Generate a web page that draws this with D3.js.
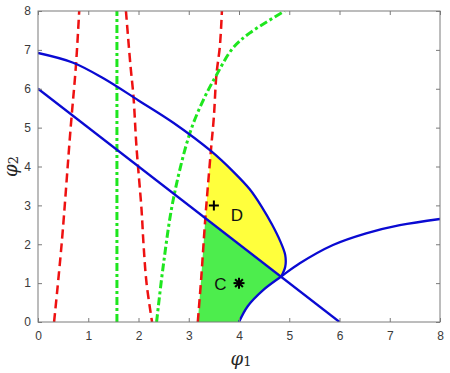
<!DOCTYPE html>
<html>
<head>
<meta charset="utf-8">
<script src="https://cdn.jsdelivr.net/npm/d3@7"></script>
<style>
  body { margin: 0; background: #fff; }
  svg { display: block; }
</style>
</head>
<body>
<div id="vis"></div>
<script>
const width = 450;
const height = 373;
const margin = { top: 11, right: 10, bottom: 51, left: 38 };

const xTicks = [0, 1, 2, 3, 4, 5, 6, 7, 8];
const yTicks = [0, 1, 2, 3, 4, 5, 6, 7, 8];

// blue curves
const straightLine = [[0, 6], [6, 0]];
const outerCurve = [[0, 6.92], [0.7, 6.67], [1.3, 6.27], [2.0, 5.7], [2.7, 5.12], [3.44, 4.40],
  [3.9, 3.85], [4.21, 3.42], [4.45, 2.97], [4.66, 2.5], [4.82, 2.08], [4.92, 1.72], [4.92, 1.42], [4.84, 1.17]];
const lowerCurve = [[4.0, 0], [4.17, 0.4], [4.48, 0.82], [4.84, 1.17], [5.21, 1.51], [5.87, 1.98],
  [6.53, 2.28], [7.2, 2.49], [8, 2.65]];

// red dashed curves
const red1 = [[0.32, 0], [0.47, 2], [0.65, 5], [0.755, 6.6], [0.82, 8]];
const red2 = [[1.75, 8], [1.84, 6.6], [1.9, 5.8], [1.96, 4.5], [2.06, 2.9], [2.1, 2], [2.16, 1], [2.27, 0]];
const red3 = [[3.18, 0], [3.25, 1.16], [3.33, 2.67], [3.44, 4.40], [3.5, 5.28], [3.55, 6.35], [3.62, 7.1], [3.66, 8]];

// green dash-dot curves
const green1 = [[Math.PI / 2, 0], [Math.PI / 2, 8]];
const green2 = [[2.36, 0], [2.49, 1.42], [2.69, 3.14], [3.02, 4.85], [3.29, 5.71], [3.55, 6.35],
  [3.88, 7.05], [4.21, 7.43], [4.91, 8]];

// markers and region labels
const plusMark = [3.5, 3.0];
const starMark = [4.0, 1.0];
const regionLabels = [{ name: 'D', x: 3.96, y: 2.75 }, { name: 'C', x: 3.63, y: 0.97 }];

const x = d3.scaleLinear().domain([0, 8]).range([margin.left, width - margin.right]);
const y = d3.scaleLinear().domain([0, 8]).range([height - margin.bottom, margin.top]);

const svg = d3.select('#vis').append('svg')
  .attr('width', width)
  .attr('height', height);

const smooth = d3.line()
  .x(d => x(d[0]))
  .y(d => y(d[1]))
  .curve(d3.curveCatmullRom);

// join several boundary pieces into one closed path
function regionPath(pieces) {
  let out = '';
  pieces.forEach((p, i) => {
    const s = smooth(p);
    out += i === 0 ? s : 'L' + s.slice(1);
  });
  return out + 'Z';
}

function between(arr, lo, hi) {
  return arr.filter(d => d[1] >= lo && d[1] <= hi);
}

// region C (green)
const cPath = regionPath([
  between(red3, 0, 2.67),
  [[3.33, 2.67], [4.84, 1.17]],
  lowerCurve.filter(d => d[0] <= 4.84).slice().reverse()
]);
svg.append('path')
  .attr('d', cPath)
  .attr('fill', '#4ded4d');

// region D (yellow)
const dPath = regionPath([
  between(red3, 2.67, 4.40),
  outerCurve.filter(d => d[0] >= 3.44),
  [[4.84, 1.17], [3.33, 2.67]]
]);
svg.append('path')
  .attr('d', dPath)
  .attr('fill', '#ffff3c');

svg.append('clipPath').attr('id', 'plotClip')
  .append('rect')
  .attr('x', x(0)).attr('y', y(8))
  .attr('width', x(8) - x(0)).attr('height', y(0) - y(8));

const curves = svg.append('g').attr('clip-path', 'url(#plotClip)');

[red1, red2, red3].forEach(c => {
  curves.append('path')
    .attr('d', smooth(c))
    .attr('fill', 'none')
    .attr('stroke', '#ee1111')
    .attr('stroke-width', 2.5)
    .attr('stroke-dasharray', '9 5');
});

[green1, green2].forEach(c => {
  curves.append('path')
    .attr('d', smooth(c))
    .attr('fill', 'none')
    .attr('stroke', '#1ee61e')
    .attr('stroke-width', 3)
    .attr('stroke-dasharray', '8 3 3 3');
});

[straightLine, outerCurve, lowerCurve].forEach(c => {
  curves.append('path')
    .attr('d', smooth(c))
    .attr('fill', 'none')
    .attr('stroke', '#0a0ad2')
    .attr('stroke-width', 2.3)
    .attr('stroke-linejoin', 'round');
});

// axes box and ticks
const axisColor = '#7a7a7a';
const tickFont = '12px "Liberation Sans", Arial, sans-serif';

svg.append('g')
  .attr('transform', `translate(0,${y(0)})`)
  .call(d3.axisBottom(x).tickValues(xTicks).tickSize(-4).tickPadding(9).tickFormat(d3.format('d')))
  .call(g => g.select('.domain').remove());
svg.append('g')
  .attr('transform', `translate(0,${y(8)})`)
  .call(d3.axisTop(x).tickValues(xTicks).tickSize(-4).tickFormat(''))
  .call(g => g.select('.domain').remove());
svg.append('g')
  .attr('transform', `translate(${x(0)},0)`)
  .call(d3.axisLeft(y).tickValues(yTicks).tickSize(-4).tickPadding(7).tickFormat(d3.format('d')))
  .call(g => g.select('.domain').remove());
svg.append('g')
  .attr('transform', `translate(${x(8)},0)`)
  .call(d3.axisRight(y).tickValues(yTicks).tickSize(-4).tickFormat(''))
  .call(g => g.select('.domain').remove());

svg.selectAll('.tick line').attr('stroke', axisColor);
svg.selectAll('.tick text')
  .style('font', tickFont)
  .attr('fill', '#3a3a3a');

svg.append('rect')
  .attr('x', x(0)).attr('y', y(8))
  .attr('width', x(8) - x(0)).attr('height', y(0) - y(8))
  .attr('fill', 'none')
  .attr('stroke', axisColor)
  .attr('stroke-width', 1);

// markers
const plusSize = 5;
svg.append('path')
  .attr('d', `M${x(plusMark[0]) - plusSize},${y(plusMark[1])}h${plusSize * 2}M${x(plusMark[0])},${y(plusMark[1]) - plusSize}v${plusSize * 2}`)
  .attr('stroke', '#000')
  .attr('stroke-width', 2);

const starGroup = svg.append('g')
  .attr('transform', `translate(${x(starMark[0])},${y(starMark[1])})`);
[0, 45, 90, 135].forEach(a => {
  starGroup.append('line')
    .attr('x1', -5.5).attr('x2', 5.5)
    .attr('transform', `rotate(${a})`)
    .attr('stroke', '#000')
    .attr('stroke-width', 2);
});

svg.selectAll('.region')
  .data(regionLabels)
  .enter().append('text')
  .attr('class', 'region')
  .attr('x', d => x(d.x))
  .attr('y', d => y(d.y))
  .attr('dy', '0.36em')
  .attr('text-anchor', 'middle')
  .style('font', '17px "Liberation Sans", Arial, sans-serif')
  .attr('fill', '#111')
  .text(d => d.name);

// axis labels
const xLabel = svg.append('text')
  .attr('x', (x(0) + x(8)) / 2 + 2)
  .attr('y', 365)
  .attr('text-anchor', 'middle')
  .attr('fill', '#262626')
  .style('font-family', '"DejaVu Serif", serif');
xLabel.append('tspan').style('font-style', 'italic').style('font-size', '18px').text('φ');
xLabel.append('tspan').style('font-size', '13px').attr('dy', 1).text('1');

const yLabel = svg.append('text')
  .attr('transform', `translate(17,${(y(0) + y(8)) / 2}) rotate(-90)`)
  .attr('text-anchor', 'middle')
  .attr('fill', '#262626')
  .style('font-family', '"DejaVu Serif", serif');
yLabel.append('tspan').style('font-style', 'italic').style('font-size', '18px').text('φ');
yLabel.append('tspan').style('font-size', '13px').attr('dy', 1).text('2');
</script>
</body>
</html>
